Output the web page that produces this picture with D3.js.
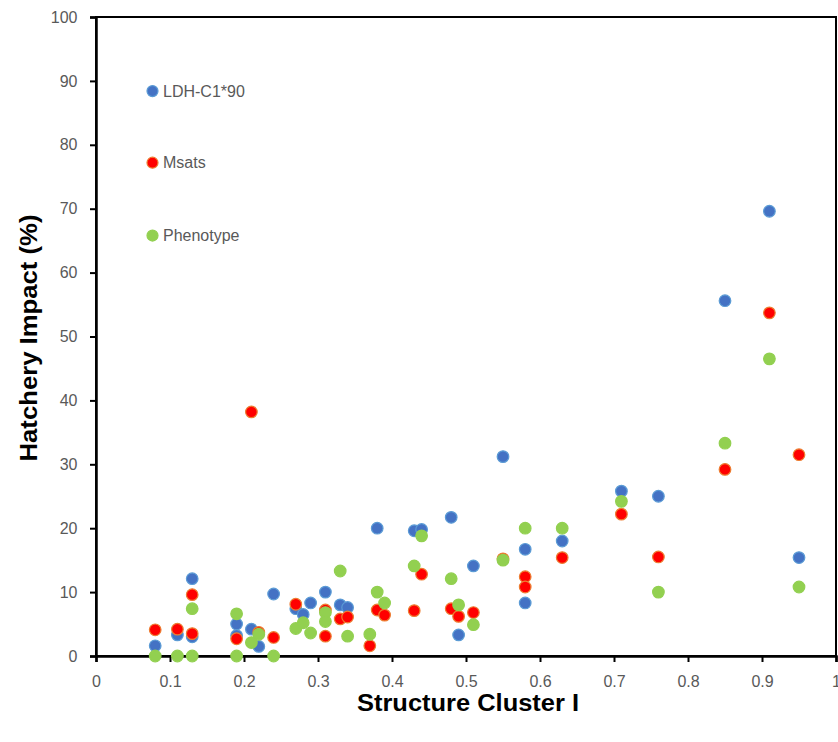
<!DOCTYPE html>
<html>
<head>
<meta charset="utf-8">
<script src="https://cdn.jsdelivr.net/npm/d3@7"></script>
<style>
  body { margin: 0; background: #fff; }
  text { font-family: "Liberation Sans", Arial, sans-serif; }
</style>
</head>
<body>
<svg width="838" height="742"></svg>
<script>
// LDH-C1*90
var ldhX = [0.08, 0.11, 0.13, 0.13, 0.19, 0.19, 0.21, 0.22, 0.24, 0.27, 0.28, 0.29, 0.31, 0.33, 0.34,
            0.38, 0.43, 0.44, 0.48, 0.49, 0.51, 0.55, 0.58, 0.58, 0.63, 0.71, 0.76, 0.85, 0.91, 0.95];
var ldhY = [1.6, 3.3, 12.1, 3.0, 5.0, 3.2, 4.2, 1.5, 9.7, 7.4, 6.5, 8.3, 10.0, 8.0, 7.6,
            20.0, 19.6, 19.8, 21.7, 3.3, 14.1, 31.2, 16.7, 8.3, 18.0, 25.8, 25.0, 55.6, 69.6, 15.4];

// Msats
var msatX = [0.08, 0.11, 0.13, 0.13, 0.19, 0.21, 0.22, 0.24, 0.27, 0.31, 0.31, 0.33, 0.34, 0.37, 0.38,
             0.39, 0.43, 0.44, 0.48, 0.49, 0.51, 0.55, 0.58, 0.58, 0.63, 0.71, 0.76, 0.85, 0.91, 0.95];
var msatY = [4.1, 4.2, 9.6, 3.5, 2.7, 38.2, 3.7, 2.9, 8.1, 7.2, 3.1, 5.8, 6.1, 1.6, 7.2,
             6.4, 7.1, 12.8, 7.4, 6.2, 6.8, 15.2, 12.4, 10.8, 15.4, 22.2, 15.5, 29.2, 53.7, 31.5];

// Phenotype
var phenX = [0.08, 0.11, 0.13, 0.13, 0.19, 0.19, 0.21, 0.22, 0.24, 0.27, 0.28, 0.29, 0.31, 0.31, 0.33, 0.34,
             0.37, 0.38, 0.39, 0.43, 0.44, 0.48, 0.49, 0.51, 0.55, 0.58, 0.63, 0.71, 0.76, 0.85, 0.91, 0.95];
var phenY = [0, 0, 7.4, 0, 6.6, 0, 2.1, 3.4, 0, 4.3, 5.2, 3.6, 6.8, 5.4, 13.3, 3.1,
             3.4, 10.0, 8.3, 14.1, 18.8, 12.1, 8.0, 4.9, 15.0, 20.0, 20.0, 24.2, 10.0, 33.3, 46.5, 10.8];

var xTicks = [0, 0.1, 0.2, 0.3, 0.4, 0.5, 0.6, 0.7, 0.8, 0.9, 1];
var yTicks = [0, 10, 20, 30, 40, 50, 60, 70, 80, 90, 100];

var series = [
  {name: "LDH-C1*90", xs: ldhX, ys: ldhY, fill: "#4472C4", stroke: "#5B9BD5"},
  {name: "Msats", xs: msatX, ys: msatY, fill: "#FF0000", stroke: "#ED7D31"},
  {name: "Phenotype", xs: phenX, ys: phenY, fill: "#92D050", stroke: "#92D050"}
];

var plotLeft = 96, plotRight = 836, plotTop = 17, plotBottom = 656;

var x = d3.scaleLinear().domain([0, 1]).range([plotLeft, plotRight]);
var y = d3.scaleLinear().domain([0, 100]).range([plotBottom, plotTop]);

var svg = d3.select("svg");

// frame
svg.append("rect")
    .attr("x", plotLeft).attr("y", plotTop)
    .attr("width", plotRight - plotLeft).attr("height", plotBottom - plotTop)
    .attr("fill", "none").attr("stroke", "#000").attr("stroke-width", 2);

var xAxis = svg.append("g")
    .attr("transform", "translate(0," + plotBottom + ")")
    .call(d3.axisBottom(x).tickValues(xTicks).tickSize(6).tickFormat(d3.format("")));
var yAxis = svg.append("g")
    .attr("transform", "translate(" + plotLeft + ",0)")
    .call(d3.axisLeft(y).tickValues(yTicks).tickSize(6));

[xAxis, yAxis].forEach(function(g) {
  g.select(".domain").attr("stroke", "#000").attr("stroke-width", 2.5);
  g.selectAll(".tick line").attr("stroke", "#000").attr("stroke-width", 2);
  g.selectAll(".tick text")
      .attr("fill", "#595959")
      .style("font-size", "16px")
      .style("font-family", "'Liberation Sans', Arial, sans-serif");
});
xAxis.selectAll(".tick text").attr("y", 19.5).attr("dy", "0.71em");
yAxis.selectAll(".tick text").attr("x", -18.5);

// points
series.forEach(function(s) {
  var pts = s.xs.map(function(v, i) { return [v, s.ys[i]]; });
  svg.append("g").selectAll("circle")
      .data(pts)
      .enter()
      .append("circle")
        .attr("cx", d => x(d[0]))
        .attr("cy", d => y(d[1]))
        .attr("r", 5.8)
        .attr("fill", s.fill)
        .attr("stroke", s.stroke)
        .attr("stroke-width", 1.2);
});

// legend
var legendY = [88.4, 77.2, 65.8];
series.forEach(function(s, i) {
  var g = svg.append("g").attr("transform", "translate(152.5," + y(legendY[i]) + ")");
  g.append("circle").attr("r", 5.5).attr("fill", s.fill).attr("stroke", s.stroke).attr("stroke-width", 1.2);
  g.append("text").attr("x", 10.5).attr("y", 5.6)
      .attr("fill", "#595959").style("font-size", "16px")
      .text(s.name);
});

// axis titles
svg.append("text")
    .attr("x", 468).attr("y", 711)
    .attr("text-anchor", "middle")
    .style("font-size", "23px").style("font-weight", "bold")
    .attr("textLength", 222).attr("lengthAdjust", "spacingAndGlyphs")
    .text("Structure Cluster I");

svg.append("text")
    .attr("transform", "translate(37,338) rotate(-90)")
    .attr("text-anchor", "middle")
    .style("font-size", "23px").style("font-weight", "bold")
    .attr("textLength", 247).attr("lengthAdjust", "spacingAndGlyphs")
    .text("Hatchery Impact (%)");
</script>
</body>
</html>
